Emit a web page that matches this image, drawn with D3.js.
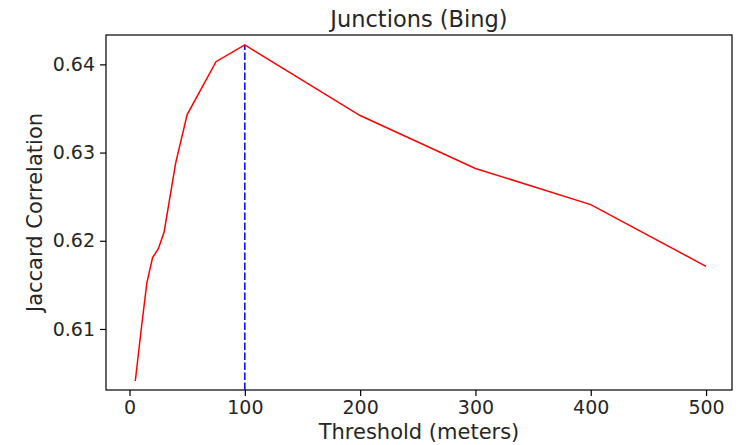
<!DOCTYPE html>
<html>
<head>
<meta charset="utf-8">
<script src="https://cdn.jsdelivr.net/npm/d3@7"></script>
<style>
  body { margin: 0; background: #fff; }
  text { font-family: "DejaVu Sans", sans-serif; fill: #262626; }
</style>
</head>
<body>
<div id="chart"></div>
<script>
// threshold (meters) vs jaccard correlation
var thresholds = [5, 10, 15, 20, 25, 30, 40, 50, 75, 100, 200, 300, 400, 500];
var jaccard = [0.6041, 0.6098, 0.6152, 0.6181, 0.6191, 0.6210, 0.6288, 0.6343,
               0.6403, 0.6422, 0.6342, 0.6282, 0.6241, 0.6171];
var xTicks = [0, 100, 200, 300, 400, 500];
var yTicks = [0.61, 0.62, 0.63, 0.64];
var bestThreshold = 100;

var W = 741, H = 445;
var mLeft = 106, mRight = 732, mTop = 35, mBottom = 390;

var svg = d3.select("#chart").append("svg")
    .attr("width", W)
    .attr("height", H);

var x = d3.scaleLinear().domain([-20.4, 522.5]).range([mLeft, mRight]);
var y = d3.scaleLinear().domain([0.60308, 0.64333]).range([mBottom, mTop]);

// axes
var xAxis = svg.append("g")
    .attr("transform", "translate(0," + mBottom + ")")
    .call(d3.axisBottom(x).tickValues(xTicks).tickSize(6).tickPadding(5).tickFormat(d3.format("d")));
var yAxis = svg.append("g")
    .attr("transform", "translate(" + mLeft + ",0)")
    .call(d3.axisLeft(y).tickValues(yTicks).tickSize(6).tickPadding(5).tickFormat(d3.format(".2f")));

[xAxis, yAxis].forEach(function (a) {
    a.select(".domain").remove();
    a.selectAll("line").attr("stroke", "#000").attr("stroke-width", 1.2);
    a.selectAll("text").style("font-size", "19px").attr("fill", "#262626")
        .style("font-family", "'DejaVu Sans', sans-serif");
});

// frame
svg.append("rect")
    .attr("x", mLeft).attr("y", mTop)
    .attr("width", mRight - mLeft).attr("height", mBottom - mTop)
    .attr("fill", "none").attr("stroke", "#000").attr("stroke-width", 1.2);

// vertical marker at best threshold
var peak = jaccard[thresholds.indexOf(bestThreshold)];
svg.append("line")
    .attr("x1", x(bestThreshold)).attr("x2", x(bestThreshold))
    .attr("y1", mBottom).attr("y2", y(peak))
    .attr("stroke", "#0000ff").attr("stroke-width", 1.5)
    .attr("stroke-dasharray", "7.5,2.5");

var line = d3.line()
    .x(function (d, i) { return x(thresholds[i]); })
    .y(function (d) { return y(d); });

svg.append("path")
    .datum(jaccard)
    .attr("d", line)
    .attr("fill", "none")
    .attr("stroke", "#ff0000")
    .attr("stroke-width", 1.5);

// labels
svg.append("text")
    .attr("x", (mLeft + mRight) / 2).attr("y", 27)
    .attr("text-anchor", "middle")
    .style("font-size", "22.5px")
    .text("Junctions (Bing)");

svg.append("text")
    .attr("x", (mLeft + mRight) / 2).attr("y", 439)
    .attr("text-anchor", "middle")
    .style("font-size", "21px")
    .text("Threshold (meters)");

svg.append("text")
    .attr("transform", "translate(42," + ((mTop + mBottom) / 2) + ") rotate(-90)")
    .attr("text-anchor", "middle")
    .style("font-size", "21px")
    .text("Jaccard Correlation");
</script>
</body>
</html>
